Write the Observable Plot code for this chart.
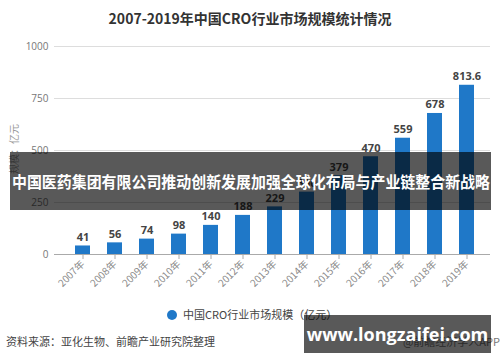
<!DOCTYPE html>
<html>
<head>
<meta charset="utf-8">
<script src="https://cdn.jsdelivr.net/npm/d3@7"></script>
<script src="https://cdn.jsdelivr.net/npm/@observablehq/plot@0.6"></script>
<style>
  html, body { margin: 0; padding: 0; background: #fff; }
  #wrap { position: relative; width: 500px; height: 362px; overflow: hidden; font-family: "Noto Sans CJK SC", "Open Sans", sans-serif; }
  #title { position: absolute; left: 0; width: 500px; top: 8px; text-align: center; font-size: 14px; font-weight: bold; color: #333; line-height: 20px; }
  #chart { position: absolute; left: 0; top: 30px; }
  #ylabel { position: absolute; left: 14px; top: 149px; transform: translate(-50%, -50%) rotate(-90deg); font-size: 10px; color: #999; white-space: nowrap; line-height: 12px; }
  #legend { position: absolute; left: 167px; top: 306px; font-size: 11px; color: #444; line-height: 16px; white-space: nowrap; }
  #legend .dot { display: inline-block; width: 10px; height: 10px; border-radius: 50%; background: #1f78c8; vertical-align: -1px; margin-right: 6px; }
  #source { position: absolute; left: 6px; top: 333px; font-size: 11px; color: #444; line-height: 16px; white-space: nowrap; }
  #app { position: absolute; right: 0; top: 333px; font-size: 11px; color: #777; line-height: 16px; white-space: nowrap; }
  #banner { position: absolute; left: 10px; top: 152px; width: 481px; height: 58px; background: rgba(0,0,0,0.65); overflow: hidden; }
  #banner span { position: absolute; left: 50%; top: 50%; transform-origin: center; color: #fff; font-size: 16px; font-weight: bold; line-height: 20px; white-space: nowrap; }
  #wm { position: absolute; left: 304px; top: 315px; width: 187px; height: 38px; background: rgba(0,0,0,0.65); color: #fff; font-family: "Open Sans", sans-serif; font-size: 18px; font-weight: bold; text-align: center; line-height: 38px; white-space: nowrap; }
</style>
</head>
<body>
<div id="wrap">
  <div id="title">2007-2019年中国CRO行业市场规模统计情况</div>
  <div id="chart"></div>
  <div id="ylabel">规模：亿元</div>
  <div id="legend"><span class="dot"></span>中国CRO行业市场规模（亿元）</div>
  <div id="source">资料来源：亚化生物、前瞻产业研究院整理</div>
  <div id="app">@前瞻经济学人APP</div>
  <div id="banner"><span id="bannerText">中国医药集团有限公司推动创新发展加强全球化布局与产业链整合新战略</span></div>
  <div id="wm">www.longzaifei.com</div>
</div>
<script>
const years = ["2007年","2008年","2009年","2010年","2011年","2012年","2013年","2014年","2015年","2016年","2017年","2018年","2019年"];
const values = [41, 56, 74, 98, 140, 188, 229, 300, 379, 470, 559, 678, 813.6];
const yTicks = [0, 250, 500, 750, 1000];

const data = years.map((y, i) => ({year: y, value: values[i]}));

const chart = Plot.plot({
  width: 500,
  height: 270,
  marginTop: 16,
  marginBottom: 46,
  marginLeft: 54,
  marginRight: 10,
  style: {fontFamily: "'Open Sans', 'Noto Sans CJK SC', sans-serif", background: "transparent"},
  x: {domain: years, range: [54, 494], paddingInner: 0.54, paddingOuter: 0.49},
  y: {domain: [0, 1000]},
  marks: [
    Plot.gridY(yTicks.filter(d => d > 0), {stroke: "#ddd", strokeOpacity: 1}),
    Plot.axisY(yTicks, {tickSize: 0, tickPadding: 6, fontSize: 10, fill: "#777", label: null, tickFormat: d => String(d)}),
    Plot.barY(data, {x: "year", y: "value", fill: "#1f78c8"}),
    Plot.ruleY([0], {stroke: "#aaa"}),
    Plot.axisX({tickRotate: -45, tickSize: 5, tickPadding: 3, fontSize: 10, fill: "#888", stroke: "#aaa", label: null, fontFamily: "'Noto Sans CJK SC', sans-serif"}),
    Plot.text(data, {x: "year", y: "value", text: d => String(d.value), dy: -5, lineAnchor: "bottom", fontSize: 11, fontWeight: "bold", fill: "#444"})
  ]
});
document.getElementById("chart").appendChild(chart);

// fit the banner headline to the banner width
const bt = document.getElementById("bannerText");
const w = bt.getBoundingClientRect().width;
const s = Math.min(1.2, 478 / w);
bt.style.transform = `translate(-50%, -50%) scale(${s}, 1)`;
</script>
</body>
</html>
